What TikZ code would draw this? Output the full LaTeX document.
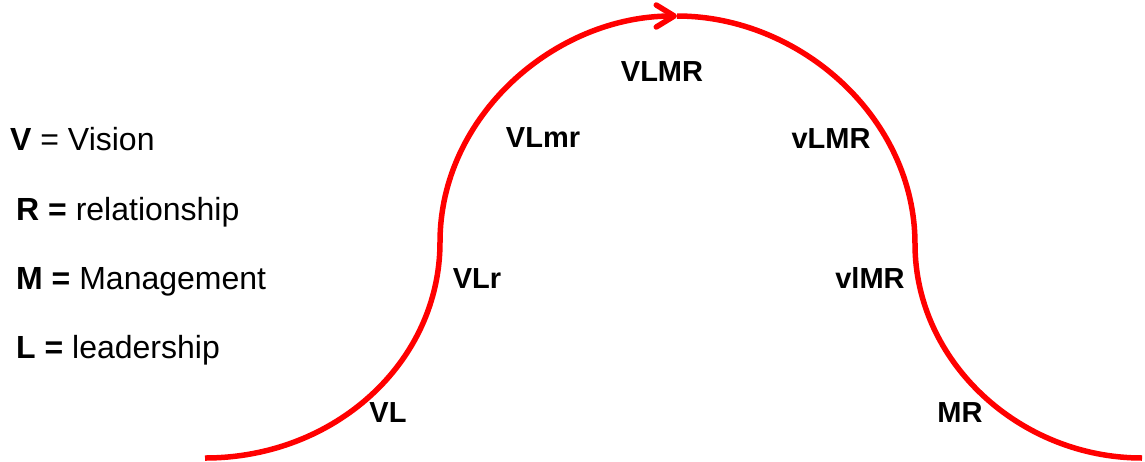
\documentclass[tikz,border=0pt]{standalone}
\usepackage{fontspec}
\setmainfont{Liberation Sans}
\usetikzlibrary{arrows.meta}
\begin{document}
\begin{tikzpicture}[x=1pt,y=-1pt,
  curve/.style={draw=red, line width=5.5pt},
  lab/.style={font=\fontsize{29}{31}\selectfont\bfseries, anchor=base, inner sep=0pt},
  leg/.style={font=\fontsize{32}{34}\selectfont, anchor=base west, inner sep=0pt}]
\useasboundingbox (0,0) rectangle (1145,461);
% curve points
\coordinate (p0) at (205,458);
\coordinate (p1) at (440,242);
\coordinate (p2) at (677,16);
\coordinate (p3) at (915,244);
\coordinate (p4) at (1142,458);
\draw[curve, -{Straight Barb[length=18pt,width=22pt,line width=5.5pt,round]}]
  (p0) .. controls (335,458) and (440,362) .. (p1)
       .. controls (440,116) and (555,16) .. (p2);
\draw[curve]
  (p2) .. controls (800,16) and (915,118) .. (p3)
       .. controls (915,362) and (1020,458) .. (p4);
% labels on curve
\node[lab] (vlmr) at (662,81) {VLMR};
\node[lab] (vlmrs) at (543,147) {VLmr};
\node[lab] (vlmrr) at (831,148) {vLMR};
\node[lab] (vlr) at (477,288) {VLr};
\node[lab] (vlmrb) at (870,288) {vlMR};
\node[lab] (vl) at (388,422) {VL};
\node[lab] (mr) at (960,422) {MR};
% legend
\node[leg] (legv) at (10,150) {\textbf{V} = Vision};
\node[leg] (legr) at (16,220) {\textbf{R =} relationship};
\node[leg] (legm) at (16,289) {\textbf{M =} Management};
\node[leg] (legl) at (16,358) {\textbf{L =} leadership};
\end{tikzpicture}
\end{document}
